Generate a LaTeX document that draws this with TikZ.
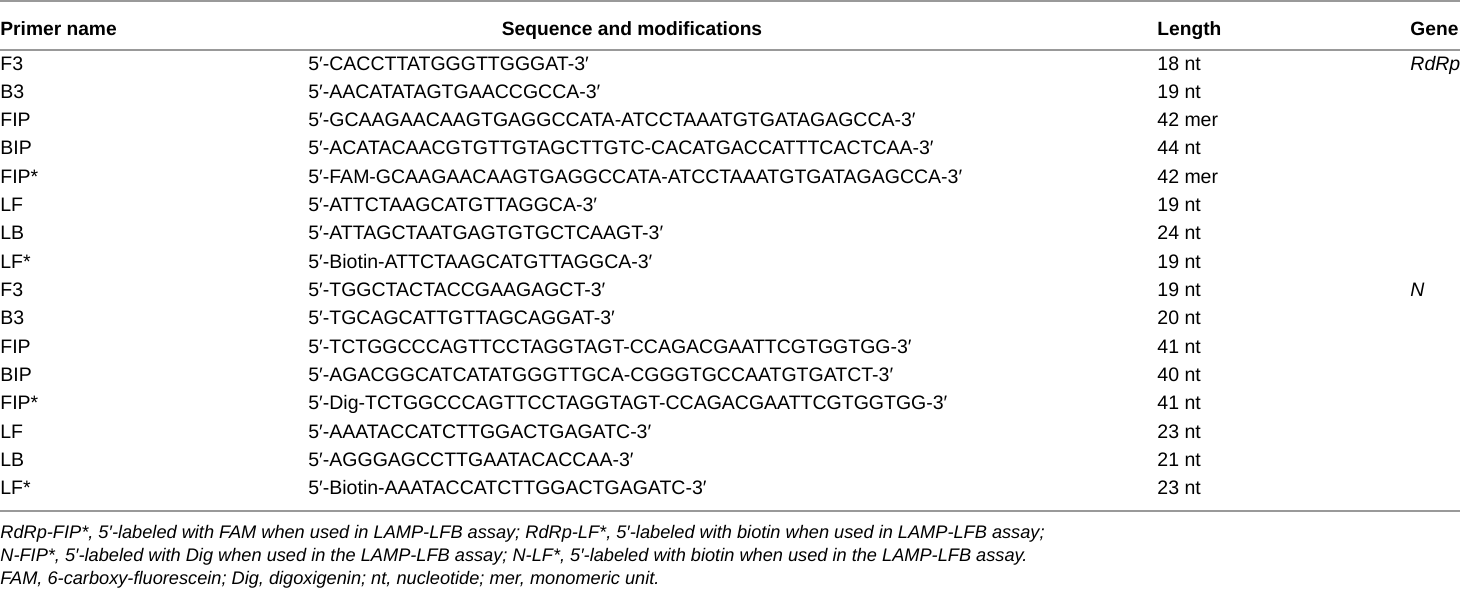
\documentclass[tikz,border=0pt]{standalone}
\usepackage{fontspec}
\setmainfont{Liberation Sans}
\begin{document}
\begin{tikzpicture}[x=0.5pt, y=-0.5pt,
	every node/.style={inner sep=0pt, anchor=base west, font=\fontsize{9.75}{12}\selectfont},
	head/.style={font=\fontsize{9.6}{12}\selectfont\bfseries},
	gene/.style={font=\fontsize{9.75}{12}\selectfont\itshape},
	note/.style={font=\fontsize{9.1}{11}\selectfont\itshape},
	rule/.style={draw=black!40, line width=1pt}]
	\useasboundingbox (0,0) rectangle (1460,595);
	
	\draw[rule] (0,1) -- (1460,1);
	\draw[rule] (0,50) -- (1460,50);
	\draw[rule] (0,511) -- (1460,511);
	
	\node[head] (hname) at (0,35) {Primer name};
	\node[head, anchor=base] (hseq) at (632,35) {Sequence and modifications};
	\node[head] (hlen) at (1157,35) {Length};
	\node[head] (hgene) at (1410,35) {Gene};
	
	\foreach \i/\nm/\sq/\ln in {1/F3/CACCTTATGGGTTGGGAT/18 nt,
		2/B3/AACATATAGTGAACCGCCA/19 nt,
		3/FIP/GCAAGAACAAGTGAGGCCATA-ATCCTAAATGTGATAGAGCCA/42 mer,
		4/BIP/ACATACAACGTGTTGTAGCTTGTC-CACATGACCATTTCACTCAA/44 nt,
		5/FIP*/FAM-GCAAGAACAAGTGAGGCCATA-ATCCTAAATGTGATAGAGCCA/42 mer,
		6/LF/ATTCTAAGCATGTTAGGCA/19 nt,
		7/LB/ATTAGCTAATGAGTGTGCTCAAGT/24 nt,
		8/LF*/Biotin-ATTCTAAGCATGTTAGGCA/19 nt,
		9/F3/TGGCTACTACCGAAGAGCT/19 nt,
		10/B3/TGCAGCATTGTTAGCAGGAT/20 nt,
		11/FIP/TCTGGCCCAGTTCCTAGGTAGT-CCAGACGAATTCGTGGTGG/41 nt,
		12/BIP/AGACGGCATCATATGGGTTGCA-CGGGTGCCAATGTGATCT/40 nt,
		13/FIP*/Dig-TCTGGCCCAGTTCCTAGGTAGT-CCAGACGAATTCGTGGTGG/41 nt,
		14/LF/AAATACCATCTTGGACTGAGATC/23 nt,
		15/LB/AGGGAGCCTTGAATACACCAA/21 nt,
		16/LF*/Biotin-AAATACCATCTTGGACTGAGATC/23 nt}
	{
		\node (nm\i) at (0,{70+28.33*(\i-1)}) {\nm};
		\node (sq\i) at (308,{70+28.33*(\i-1)}) {5′-\sq-3′};
		\node (ln\i) at (1157,{70+28.33*(\i-1)}) {\ln};
	}
	
	\node[gene] (rdrp) at (1410,70) {RdRp};
	\node[gene] (n) at (1410,{70+28.33*8}) {N};
	
	\node[note] (note1) at (0,538) {RdRp-FIP*, 5′-labeled with FAM when used in LAMP-LFB assay; RdRp-LF*, 5′-labeled with biotin when used in LAMP-LFB assay;};
	\node[note] (note2) at (0,561) {N-FIP*, 5′-labeled with Dig when used in the LAMP-LFB assay; N-LF*, 5′-labeled with biotin when used in the LAMP-LFB assay.};
	\node[note] (note3) at (0,584) {FAM, 6-carboxy-fluorescein; Dig, digoxigenin; nt, nucleotide; mer, monomeric unit.};
\end{tikzpicture}
\end{document}
